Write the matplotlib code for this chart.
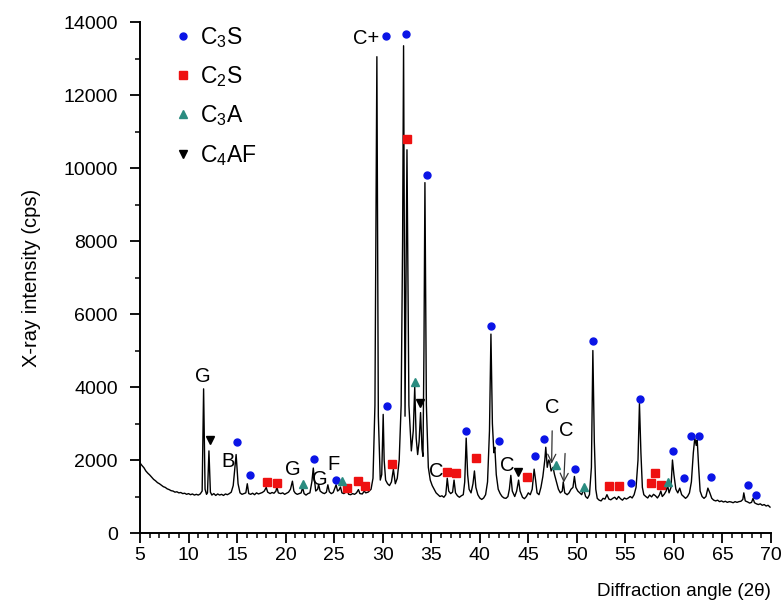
import matplotlib
matplotlib.use("Agg")
import matplotlib.pyplot as plt

plt.rcParams['font.family'] = ['Liberation Sans', 'DejaVu Sans']
plt.rcParams['mathtext.fontset'] = 'custom'
plt.rcParams['mathtext.rm'] = 'Liberation Sans'
plt.rcParams['mathtext.default'] = 'regular'

# diffraction pattern (2theta, cps)
angle = [5.0, 5.2, 5.4, 5.6, 5.8, 6.0, 6.2, 6.4, 6.6, 6.8, 7.0, 7.2, 7.4, 7.6, 7.8,
         8.0, 8.2, 8.4, 8.6, 8.8, 9.0, 9.2, 9.4, 9.6, 9.8, 10.0, 10.2, 10.4, 10.6,
         10.8, 11.0, 11.2, 11.4, 11.55, 11.7, 11.85, 11.95, 12.1, 12.25, 12.4, 12.6,
         12.8, 13.0, 13.2, 13.4, 13.6, 13.8, 14.0, 14.2, 14.4, 14.6, 14.9, 15.1, 15.3,
         15.5, 15.7, 15.9, 16.05, 16.2, 16.4, 16.6, 16.8, 17.0, 17.2, 17.4, 17.6, 17.8,
         18.0, 18.15, 18.4, 18.6, 18.8, 19.0, 19.1, 19.25, 19.5, 19.7, 19.9, 20.1, 20.3,
         20.5, 20.7, 20.85, 21.0, 21.2, 21.4, 21.6, 21.75, 21.9, 22.1, 22.3, 22.5, 22.7,
         22.85, 22.95, 23.1, 23.3, 23.4, 23.55, 23.8, 24.0, 24.2, 24.35, 24.5, 24.7,
         24.9, 25.0, 25.2, 25.35, 25.5, 25.65, 25.8, 26.0, 26.2, 26.35, 26.5, 26.7,
         26.9, 27.1, 27.3, 27.5, 27.65, 27.9, 28.1, 28.25, 28.5, 28.8, 29.0, 29.2,
         29.4, 29.55, 29.75, 29.9, 30.05, 30.15, 30.3, 30.5, 30.7, 30.9, 31.1, 31.3,
         31.5, 31.7, 31.9, 32.05, 32.15, 32.3, 32.5, 32.7, 32.95, 33.15, 33.3, 33.45,
         33.6, 33.75, 33.9, 34.05, 34.15, 34.25, 34.35, 34.5, 34.7, 34.9, 35.1, 35.3,
         35.5, 35.7, 35.9, 36.1, 36.3, 36.5, 36.65, 36.8, 37.0, 37.2, 37.35, 37.5, 37.7,
         37.9, 38.1, 38.3, 38.45, 38.6, 38.75, 38.9, 39.1, 39.3, 39.45, 39.6, 39.8, 40.0,
         40.2, 40.4, 40.6, 40.8, 41.0, 41.15, 41.3, 41.45, 41.55, 41.7, 41.9, 42.1, 42.3,
         42.5, 42.7, 42.9, 43.05, 43.2, 43.35, 43.6, 43.8, 44.0, 44.15, 44.4, 44.6, 44.8,
         45.0, 45.2, 45.4, 45.6, 45.75, 45.9, 46.1, 46.3, 46.5, 46.7, 46.8, 46.95, 47.1,
         47.2, 47.35, 47.55, 47.7, 47.9, 48.1, 48.3, 48.5, 48.6, 48.75, 49.0, 49.2, 49.4,
         49.6, 49.75, 49.9, 50.1, 50.3, 50.5, 50.7, 50.9, 51.1, 51.3, 51.5, 51.65, 51.8,
         51.95, 52.1, 52.3, 52.5, 52.7, 52.9, 53.1, 53.3, 53.5, 53.7, 53.9, 54.1, 54.3,
         54.5, 54.7, 54.9, 55.1, 55.3, 55.5, 55.7, 55.9, 56.1, 56.3, 56.45, 56.6, 56.75,
         56.9, 57.1, 57.3, 57.5, 57.7, 57.9, 58.1, 58.3, 58.5, 58.65, 58.8, 59.0, 59.2,
         59.35, 59.5, 59.7, 59.85, 60.0, 60.2, 60.4, 60.6, 60.8, 61.0, 61.2, 61.4, 61.6,
         61.8, 62.0, 62.15, 62.3, 62.4, 62.55, 62.7, 62.9, 63.1, 63.3, 63.5, 63.7, 63.9,
         64.1, 64.3, 64.5, 64.7, 64.9, 65.1, 65.3, 65.5, 65.7, 65.9, 66.1, 66.3, 66.5,
         66.7, 66.9, 67.1, 67.2, 67.35, 67.6, 67.8, 68.0, 68.15, 68.3, 68.5, 68.7, 68.9,
         69.1, 69.3, 69.5, 69.7, 69.9]
counts = [1920, 1850, 1790, 1700, 1640, 1590, 1530, 1470, 1430, 1380, 1350, 1310, 1270, 1250, 1210,
          1190, 1160, 1150, 1120, 1130, 1100, 1110, 1080, 1090, 1060, 1080, 1050, 1070, 1040,
          1060, 1040, 1070, 1150, 3950, 1200, 1060, 1100, 2250, 1120, 1040, 1080,
          1030, 1070, 1040, 1060, 1030, 1070, 1050, 1080, 1120, 1300, 2150, 1350, 1100,
          1060, 1080, 1100, 1350, 1080, 1060, 1090, 1050, 1100, 1070, 1090, 1110, 1150,
          1250, 1120, 1080, 1110, 1090, 1150, 1260, 1100, 1080, 1100, 1060, 1090, 1120,
          1200, 1420, 1150, 1090, 1060, 1080, 1100, 1250, 1080, 1040, 1080, 1100, 1400,
          1780, 1500, 1150, 1200, 1330, 1150, 1100, 1080, 1120, 1320, 1130, 1080,
          1110, 1180, 1320, 1150, 1180, 1260, 1100, 1080, 1120, 1150, 1060, 1050,
          1080, 1060, 1100, 1190, 1080, 1070, 1150, 1100, 1120, 1200, 1500, 3500,
          13050, 3200, 1450, 1600, 3250, 2000, 1450, 1350, 1300, 1400, 1750, 1350,
          1500, 2000, 3500, 8000, 13350, 3200, 10500, 3500, 2250, 2800, 4000, 2600,
          2150, 2500, 3300, 2300, 2100, 5000, 9600, 3500, 1800, 1450, 1300, 1200,
          1100, 1050, 1000, 1020, 980, 1050, 1500, 1150, 1080, 1120, 1450, 1100, 1020,
          980, 1020, 1050, 1400, 2600, 1600, 1200, 1100, 1350, 1700, 1250, 1050, 960,
          920, 960, 1050, 1400, 2800, 5450, 3000, 2200, 2350, 1600, 1200, 1080, 1000,
          960, 950, 1000, 1200, 1580, 1150, 1000, 1150, 1450, 1150, 980, 940, 1000,
          1100, 1050, 1200, 1750, 1450, 1100, 1050, 1250, 1550, 2000, 2350, 1800, 2000,
          1950, 1700, 1800, 1600, 1400, 1200, 1100, 1150, 1400, 1100, 1050, 1100, 1200,
          1250, 1550, 1250, 1150, 1100, 1050, 1200, 1000, 950, 1050, 1800, 5000, 2500,
          1200, 950, 900, 880, 950, 930, 1050, 930, 910, 950, 980, 920, 1000,
          940, 900, 960, 930, 960, 1000, 960, 1050, 1250, 2000, 3550, 2200, 1250,
          1050, 1000, 960, 1040, 990, 1060, 1020, 960, 1040, 1150, 1000, 1060, 1150,
          1300, 1100, 1250, 2000, 1600, 1200, 1100, 1230, 1050, 1000, 950, 1000, 1100,
          1400, 2200, 2600, 2400, 2550, 1800, 1150, 1000, 950, 1000, 1230, 1100, 950,
          900, 880, 900, 860, 880, 850, 870, 840, 860, 850, 830, 860, 840,
          860, 870, 920, 1100, 880, 850, 820, 840, 950, 830, 800, 780, 800,
          760, 780, 740, 760, 710]

# phase markers (2theta, cps)
c3s_x = [15.0, 16.3, 22.9, 25.2, 30.3, 32.35, 30.4, 34.6, 38.6, 41.2, 42.0, 45.7, 46.6,
         49.8, 51.7, 55.6, 56.5, 59.9, 61.0, 61.8, 62.6, 63.8, 67.6, 68.5]
c3s_y = [2490, 1590, 2020, 1460, 13620, 13670, 3480, 9800, 2790, 5670, 2510, 2110, 2580,
         1760, 5260, 1360, 3670, 2260, 1520, 2670, 2650, 1540, 1310, 1050]
c2s_x = [18.05, 19.1, 26.35, 27.5, 28.2, 31.0, 32.55, 36.6, 37.5, 39.6, 44.9, 53.3, 54.35,
         57.6, 58.0, 58.7]
c2s_y = [1390, 1360, 1220, 1420, 1290, 1900, 10800, 1670, 1640, 2050, 1540, 1300, 1300,
         1360, 1640, 1320]
c3a_x = [21.75, 25.85, 33.3, 47.85, 50.75, 59.4]
c3a_y = [1330, 1420, 4150, 1860, 1250, 1390]
c4af_x = [12.2, 33.8, 43.9]
c4af_y = [2550, 3570, 1680]

# letter labels on peaks
tag_text = ['G', 'B', 'G', 'G', 'F', 'C+', 'C', 'C']
tag_x = [11.5, 14.1, 20.75, 23.5, 24.9, 28.3, 35.55, 42.8]
tag_y = [4300, 1970, 1730, 1480, 1890, 13560, 1680, 1840]

fig = plt.figure(figsize=(7.84, 6.15), dpi=100)
ax = fig.add_axes([0.1786, 0.1333, 0.8048, 0.8309])

ax.plot(angle, counts, color='black', lw=1.0)

ax.plot(c3s_x, c3s_y, 'o', color='#0a14e6', ms=5, ls='none', label='C$_3$S')
ax.plot(c2s_x, c2s_y, 's', color='#ee1111', ms=5.5, ls='none', label='C$_2$S')
ax.plot(c3a_x, c3a_y, '^', color='#2a8c80', ms=5.5, ls='none', label='C$_3$A')
ax.plot(c4af_x, c4af_y, 'v', color='black', ms=5.5, ls='none', label='C$_4$AF')

for t, x, y in zip(tag_text, tag_x, tag_y):
    ax.text(x, y, t, fontsize=14.5, ha='center', va='center')

ax.annotate('C', xy=(47.4, 1900), xytext=(47.5, 3440), fontsize=14.5,
            ha='center', va='center',
            arrowprops=dict(arrowstyle='->', color='#333333', lw=0.9, shrinkA=8, shrinkB=0))
ax.annotate('C', xy=(48.65, 1380), xytext=(48.9, 2820), fontsize=14.5,
            ha='center', va='center',
            arrowprops=dict(arrowstyle='->', color='#333333', lw=0.9, shrinkA=8, shrinkB=0))

ax.set_xlim(5, 70)
ax.set_ylim(0, 14000)
ax.set_xticks(range(5, 71, 5))
ax.set_xticks(range(5, 71, 1), minor=True)
ax.set_yticks(range(0, 14001, 2000))
ax.set_yticks(range(0, 14001, 1000), minor=True)

for s in ['top', 'right']:
    ax.spines[s].set_visible(False)
for s in ['left', 'bottom']:
    ax.spines[s].set_linewidth(1.4)
ax.tick_params(which='major', length=7, width=1.3, labelsize=14, direction='out')
ax.tick_params(which='minor', length=3.5, width=1.1, direction='out')
ax.tick_params(axis='x', pad=3)
ax.tick_params(axis='y', pad=9)

ax.set_xlabel('Diffraction angle (2θ)', fontsize=13.5, loc='right', labelpad=14)
ax.set_ylabel('X-ray intensity (cps)', fontsize=14.5, labelpad=16)

ax.legend(loc='upper left', bbox_to_anchor=(0.024, 1.025), frameon=False, fontsize=16.5,
          handlelength=1.0, handletextpad=0.25, labelspacing=0.62, borderpad=0.2)

fig.savefig('out.png', dpi=100)
